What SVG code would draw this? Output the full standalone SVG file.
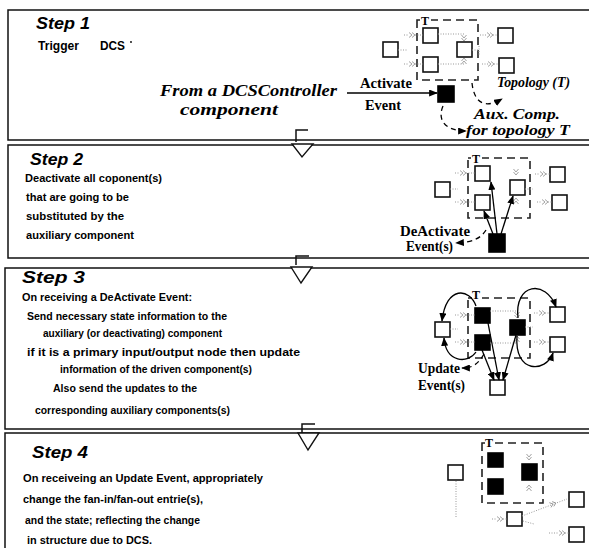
<svg xmlns="http://www.w3.org/2000/svg" xmlns:xlink="http://www.w3.org/1999/xlink" width="589" height="548" viewBox="0 0 589 548">
<style>
.frame{fill:none;stroke:#111;stroke-width:1.5}
.tri{fill:#fff;stroke:#111;stroke-width:1.4}
.sq{fill:#fff;stroke:#111;stroke-width:1.6}
.blk{fill:#000;stroke:#000;stroke-width:1.6}
.tbox{fill:none;stroke:#222;stroke-width:1.6;stroke-dasharray:8 5}
.dot{fill:none;stroke:#999;stroke-width:1;stroke-dasharray:1 1.5}
.chev{fill:none;stroke:#999;stroke-width:0.9}
.arr{fill:none;stroke:#000;stroke-width:1.3;marker-end:url(#ah)}
.darr{fill:none;stroke:#000;stroke-width:1.3;stroke-dasharray:5 4;marker-end:url(#ah)}
.h{font-family:"Liberation Sans",Arial,sans-serif;font-weight:bold;font-style:italic;font-size:17px;fill:#000}
.b{font-family:"Liberation Sans",Arial,sans-serif;font-weight:bold;font-size:11.8px;fill:#000}
.s{font-family:"Liberation Serif","Times New Roman",serif;font-weight:bold;font-size:14px;fill:#000}
.si{font-family:"Liberation Serif","Times New Roman",serif;font-weight:bold;font-style:italic;font-size:14px;fill:#000}
.tl{font-family:"Liberation Serif","Times New Roman",serif;font-weight:bold;font-size:12px;fill:#000}
</style>
<defs>
<marker id="ah" viewBox="0 0 10 8" refX="9" refY="4" markerWidth="9" markerHeight="7" orient="auto" markerUnits="userSpaceOnUse">
<path d="M0,0 L10,4 L0,8 z" fill="#000"/>
</marker>
<path id="cv" class="chev" d="M-3,-2.5 L0,0 L-3,2.5 M0,-2.5 L3,0 L0,2.5"/>
</defs>

<g id="frames">
<path class="frame" d="M589,10 H8 V140 H589"/>
<path class="frame" d="M589,145 H8 V258 H589"/>
<path class="frame" d="M589,268 H5 V429 H589"/>
<path class="frame" d="M589,433 H5 V548"/>
</g>

<g id="flow-markers">
<path class="frame" d="M296,142 V130 H308"/>
<path class="tri" d="M292,144 L313,144 L302,157 Z"/>
<path class="frame" d="M296,265 V256 H309"/>
<path class="tri" d="M291,267 L312,267 L301,283 Z"/>
<path class="frame" d="M302,436 V424 H315"/>
<path class="tri" d="M298,433 L319,433 L308,450 Z"/>
</g>

<g id="step1-text">
<text class="h" x="36" y="29" textLength="54" lengthAdjust="spacingAndGlyphs">Step 1</text>
<text class="b" style="font-size:12px" x="38" y="50" textLength="41" lengthAdjust="spacingAndGlyphs">Trigger</text>
<text class="b" style="font-size:12px" x="100" y="50" textLength="25" lengthAdjust="spacingAndGlyphs">DCS</text>
<circle cx="131" cy="42" r="0.9" fill="#000"/>
<text class="si" style="font-size:17px" x="160" y="96" textLength="177" lengthAdjust="spacingAndGlyphs">From a DCSController</text>
<text class="si" style="font-size:17px" x="180" y="115" textLength="98" lengthAdjust="spacingAndGlyphs">component</text>
<text class="s" x="360" y="88" textLength="52" lengthAdjust="spacingAndGlyphs">Activate</text>
<text class="s" x="365" y="110" textLength="36" lengthAdjust="spacingAndGlyphs">Event</text>
<text class="si" x="497" y="87" textLength="73" lengthAdjust="spacingAndGlyphs">Topology (T)</text>
<text class="si" x="474" y="119" textLength="86" lengthAdjust="spacingAndGlyphs">Aux. Comp.</text>
<text class="si" x="466" y="135" textLength="104" lengthAdjust="spacingAndGlyphs">for topology T</text>
</g>

<g id="step1-topology">
<rect class="tbox" x="417" y="20" width="61" height="60"/>
<rect x="420" y="14" width="11" height="11" fill="#fff"/>
<text class="tl" x="421" y="25">T</text>
</g>
<g id="s1-left"><rect class="sq" x="383" y="42" width="15" height="15"/></g>
<g id="s1-in-tl"><rect class="sq" x="423" y="28" width="15" height="15"/></g>
<g id="s1-in-bl"><rect class="sq" x="423" y="57" width="15" height="15"/></g>
<g id="s1-in-r"><rect class="sq" x="457" y="42" width="15" height="15"/></g>
<g id="s1-out-t"><rect class="sq" x="498" y="28" width="15" height="15"/></g>
<g id="s1-out-b"><rect class="sq" x="499" y="58" width="15" height="15"/></g>
<g id="s1-aux"><rect class="blk" x="438" y="86" width="16" height="16"/></g>

<g id="step2-text">
<text class="h" x="30" y="165" textLength="53" lengthAdjust="spacingAndGlyphs">Step 2</text>
<text class="b" x="25" y="182" textLength="137" lengthAdjust="spacingAndGlyphs">Deactivate all coponent(s)</text>
<text class="b" x="26" y="201" textLength="103" lengthAdjust="spacingAndGlyphs">that are going to be</text>
<text class="b" x="26" y="220" textLength="98" lengthAdjust="spacingAndGlyphs">substituted by the</text>
<text class="b" x="26" y="239" textLength="108" lengthAdjust="spacingAndGlyphs">auxiliary component</text>
<text class="s" x="400" y="236" textLength="70" lengthAdjust="spacingAndGlyphs">DeActivate</text>
<text class="s" x="406" y="251" textLength="47" lengthAdjust="spacingAndGlyphs">Event(s)</text>
</g>
<g id="step2-topology">
<rect class="tbox" x="468" y="158" width="62" height="60"/>
<rect x="471" y="152" width="11" height="11" fill="#fff"/>
<text class="tl" x="472" y="163">T</text>
</g>
<g id="s2-left"><rect class="sq" x="435" y="182" width="15" height="15"/></g>
<g id="s2-in-tl"><rect class="sq" x="475" y="166" width="15" height="15"/></g>
<g id="s2-in-bl"><rect class="sq" x="475" y="195" width="15" height="15"/></g>
<g id="s2-in-r"><rect class="sq" x="510" y="180" width="15" height="15"/></g>
<g id="s2-out-t"><rect class="sq" x="550" y="167" width="15" height="15"/></g>
<g id="s2-out-b"><rect class="sq" x="552" y="195" width="15" height="15"/></g>
<g id="s2-aux"><rect class="blk" x="489" y="234" width="16" height="18"/></g>

<g id="step3-text">
<text class="h" x="22" y="283" textLength="63" lengthAdjust="spacingAndGlyphs">Step 3</text>
<text class="b" x="22" y="301" textLength="170" lengthAdjust="spacingAndGlyphs">On receiving a DeActivate Event:</text>
<text class="b" x="27" y="320" textLength="200" lengthAdjust="spacingAndGlyphs">Send necessary state information to the</text>
<text class="b" x="43" y="337" textLength="179" lengthAdjust="spacingAndGlyphs">auxiliary (or deactivating) component</text>
<text class="b" x="27" y="356" textLength="273" lengthAdjust="spacingAndGlyphs">if it is a primary input/output node then update</text>
<text class="b" x="60" y="373" textLength="192" lengthAdjust="spacingAndGlyphs">information of the driven component(s)</text>
<text class="b" x="53" y="392" textLength="144" lengthAdjust="spacingAndGlyphs">Also send the updates to the</text>
<text class="b" x="35" y="414" textLength="195" lengthAdjust="spacingAndGlyphs">corresponding auxiliary components(s)</text>
<text class="s" x="418" y="373" textLength="42" lengthAdjust="spacingAndGlyphs">Update</text>
<text class="s" x="418" y="390" textLength="47" lengthAdjust="spacingAndGlyphs">Event(s)</text>
</g>
<g id="step3-topology">
<rect class="tbox" x="468" y="298" width="62" height="60"/>
<rect x="472" y="290" width="10" height="10" fill="#fff"/>
<text class="tl" x="472" y="299">T</text>
</g>
<g id="s3-left"><rect class="sq" x="435" y="322" width="15" height="15"/></g>
<g id="s3-in-tl"><rect class="blk" x="475" y="308" width="15" height="15"/></g>
<g id="s3-in-bl"><rect class="blk" x="475" y="335" width="15" height="15"/></g>
<g id="s3-in-r"><rect class="blk" x="510" y="320" width="15" height="15"/></g>
<g id="s3-out-t"><rect class="sq" x="550" y="307" width="15" height="15"/></g>
<g id="s3-out-b"><rect class="sq" x="550" y="337" width="15" height="15"/></g>
<g id="s3-aux"><rect class="sq" x="490" y="380" width="15" height="15"/></g>

<g id="step4-text">
<text class="h" x="32" y="458" textLength="56" lengthAdjust="spacingAndGlyphs">Step 4</text>
<text class="b" x="23" y="482" textLength="240" lengthAdjust="spacingAndGlyphs">On receiveing an Update Event, appropriately</text>
<text class="b" x="23" y="503" textLength="180" lengthAdjust="spacingAndGlyphs">change the fan-in/fan-out entrie(s),</text>
<text class="b" x="25" y="524" textLength="175" lengthAdjust="spacingAndGlyphs">and the state; reflecting the change</text>
<text class="b" x="27" y="544" textLength="125" lengthAdjust="spacingAndGlyphs">in structure due to DCS.</text>
</g>
<g id="step4-topology">
<rect class="tbox" x="482" y="443" width="61" height="60"/>
<rect x="485" y="437" width="10" height="10" fill="#fff"/>
<text class="tl" x="485" y="447">T</text>
</g>
<g id="s4-left"><rect class="sq" x="448" y="465" width="15" height="15"/></g>
<g id="s4-in-tl"><rect class="blk" x="488" y="453" width="15" height="14"/></g>
<g id="s4-in-bl"><rect class="blk" x="488" y="479" width="15" height="15"/></g>
<g id="s4-in-r"><rect class="blk" x="522" y="464" width="15" height="16"/></g>
<g id="s4-mid"><rect class="sq" x="507" y="512" width="15" height="14"/></g>
<g id="s4-out-t"><rect class="sq" x="569" y="492" width="15" height="15"/></g>
<g id="s4-out-b"><rect class="sq" x="569" y="527" width="15" height="15"/></g>

<g id="connectors">
<!-- step 1 -->
<path class="dot" d="M398,50 H407"/>
<path class="dot" d="M404,35 H409 M415,35 H423"/><use xlink:href="#cv" href="#cv" transform="translate(412,35)"/>
<path class="dot" d="M404,64 H409 M415,64 H423"/><use xlink:href="#cv" href="#cv" transform="translate(412,64)"/>
<path class="dot" d="M438,34 H464 V35"/><use xlink:href="#cv" href="#cv" transform="translate(464,38) rotate(90)"/>
<path class="dot" d="M438,64 H464"/><use xlink:href="#cv" href="#cv" transform="translate(464,61) rotate(-90)"/>
<path class="dot" d="M472,50 H478 M479,46 V56"/>
<path class="dot" d="M480,35 H487 M493,35 H498"/><use xlink:href="#cv" href="#cv" transform="translate(490,35)"/>
<path class="dot" d="M482,64 H488 M494,64 H499"/><use xlink:href="#cv" href="#cv" transform="translate(491,64)"/>
<path class="arr" d="M347,93 H437"/>
<path class="darr" d="M443,106 C437,120 445,131 466,131"/>
<path class="darr" d="M472,83 C474,101 483,110 502,99"/>
<!-- step 2 -->
<path class="dot" d="M450,189 H458"/>
<path class="dot" d="M455,173 H460 M466,173 H475"/><use xlink:href="#cv" href="#cv" transform="translate(463,173)"/>
<path class="dot" d="M455,202 H460 M466,202 H475"/><use xlink:href="#cv" href="#cv" transform="translate(463,202)"/>
<use xlink:href="#cv" href="#cv" transform="translate(516,172) rotate(90)"/>
<use xlink:href="#cv" href="#cv" transform="translate(516,201) rotate(-90)"/>
<path class="dot" d="M525,189 H533"/>
<path class="dot" d="M535,174 H540 M546,174 H550"/><use xlink:href="#cv" href="#cv" transform="translate(543,174)"/>
<path class="dot" d="M537,202 H542 M548,202 H552"/><use xlink:href="#cv" href="#cv" transform="translate(545,202)"/>
<path class="arr" d="M493,234 L484,211"/>
<path class="arr" d="M497,234 L491,182"/>
<path class="arr" d="M501,234 L513,196"/>
<path class="darr" d="M486,230 C481,238 474,242 456,243"/>
<!-- step 3 -->
<path class="dot" d="M450,329 H458"/>
<path class="dot" d="M455,315 H460 M466,315 H475"/><use xlink:href="#cv" href="#cv" transform="translate(463,315)"/>
<path class="dot" d="M455,342 H460 M466,342 H475"/><use xlink:href="#cv" href="#cv" transform="translate(463,342)"/>
<path class="dot" d="M490,311 H517"/><use xlink:href="#cv" href="#cv" transform="translate(517,315) rotate(90)"/>
<path class="dot" d="M490,343 H517"/><use xlink:href="#cv" href="#cv" transform="translate(517,339) rotate(-90)"/>
<path class="dot" d="M525,327 H533"/>
<path class="dot" d="M534,313 H539 M545,313 H550"/><use xlink:href="#cv" href="#cv" transform="translate(542,313)"/>
<path class="dot" d="M534,342 H539 M545,342 H550"/><use xlink:href="#cv" href="#cv" transform="translate(542,342)"/>
<path class="arr" d="M482,350 L494,380"/>
<path class="arr" d="M488,323 L499,380"/>
<path class="arr" d="M516,335 L503,380"/>
<path class="arr" d="M476,306 C470,288 446,285 442,321"/>
<path class="arr" d="M476,352 C468,364 446,363 444,338"/>
<path class="arr" d="M518,318 C514,283 546,279 556,307"/>
<path class="arr" d="M517,336 C514,374 546,373 553,353"/>
<path class="darr" d="M484,354 C478,364 473,368 462,368"/>
<!-- step 4 -->
<use xlink:href="#cv" href="#cv" transform="translate(529,457) rotate(90)"/>
<use xlink:href="#cv" href="#cv" transform="translate(529,488) rotate(-90)"/>
<path class="dot" d="M456,481 V518"/>
<path class="dot" d="M492,519 H497 M503,519 H507"/><use xlink:href="#cv" href="#cv" transform="translate(500,519)"/>
<path class="dot" d="M522,516 L567,499"/><use xlink:href="#cv" href="#cv" transform="translate(553,504) rotate(-20)"/>
<path class="dot" d="M523,521 L534,524"/>
<path class="dot" d="M549,533 H559 M565,533 H569"/><use xlink:href="#cv" href="#cv" transform="translate(562,533)"/>
</g>
</svg>
